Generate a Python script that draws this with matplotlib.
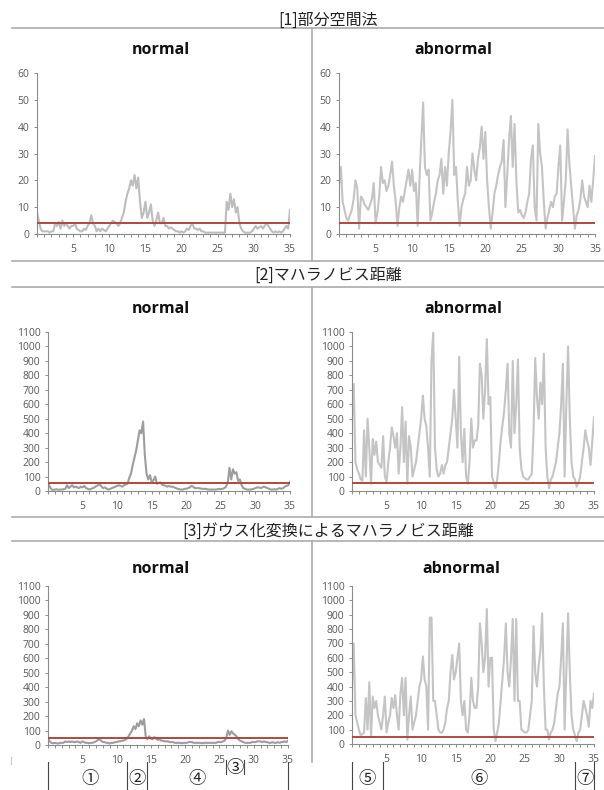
import matplotlib.pyplot as plt
import matplotlib.transforms as mtransforms
from matplotlib.lines import Line2D
import numpy as np

plt.rcParams['font.family'] = ['Noto Sans CJK JP', 'DejaVu Sans']

# sample times (0 .. 35, every 0.25)
t = np.arange(141) * 0.25

# [1] subspace method
sub_normal = [8,
    5, 2, 1, 1,   1, 1, 0.5, 1,   1, 4, 3, 4.5,   2, 5, 3, 4,   3, 2, 3, 3,
    4, 2, 1.5, 1,   1, 2, 1.5, 3,   4, 7, 4, 3,   1, 2, 1, 2,   1.5, 1, 2, 3,
    4, 5, 4.5, 4,   3, 4, 6, 8,   12, 15, 17, 20,   18, 22, 17, 21,   12, 6, 8, 12,
    6, 8, 11, 5,   3, 5, 8, 4,   4, 6, 3, 3,   2, 2.5, 2, 1.5,   1, 1, 0.5, 1,
    0.5, 1, 2, 1.5,   3, 4, 2, 2,   1.5, 2, 1, 1,   0.5, 0.5, 0.5, 0.5,   0.5, 0.5, 0.5, 0.5,
    0.5, 0.5, 0.5, 0.5,   12, 9, 15, 10,   13, 8, 10, 4,   2, 1, 0.5, 0.5,   0.5, 0.5, 1, 2,
    3, 2, 2.5, 3,   2, 3, 4, 3,   2, 1, 0.5, 1,   0.5, 1, 0.5, 1,   2, 3, 2, 9]
sub_abnormal = [18,
    25, 12, 9, 6,   5, 7, 9, 13,   20, 17, 2, 14,   13, 11, 10, 9,   11, 13, 19, 4,
    8, 14, 25, 19,   20, 16, 18, 22,   27, 18, 12, 3,   10, 14, 12, 16,   20, 24, 18, 24,
    16, 19, 3, 20,   35, 49, 25, 22,   24, 5, 8, 12,   15, 20, 22, 28,   15, 25, 18, 30,
    38, 50, 22, 25,   12, 3, 10, 13,   15, 25, 18, 20,   30, 24, 20, 28,   32, 40, 28, 38,
    20, 10, 2, 8,   15, 18, 22, 25,   27, 35, 10, 22,   35, 44, 25, 41,   20, 8, 9, 7,
    6, 8, 12, 15,   28, 33, 10, 5,   41, 30, 25, 12,   2, 6, 9, 12,   10, 14, 15, 25,
    33, 5, 12, 20,   39, 26, 18, 10,   2, 7, 9, 13,   20, 14, 12, 10,   18, 12, 20, 29]

# [2] Mahalanobis distance
mah_normal = [60,
    30, 10, 8, 10,   12, 8, 10, 10,   12, 15, 40, 20,   30, 40, 25, 30,   25, 20, 30, 25,
    35, 20, 15, 10,   15, 20, 25, 35,   40, 45, 30, 20,   25, 15, 10, 15,   20, 25, 30, 35,
    40, 35, 30, 40,   45, 50, 90, 120,   180, 230, 280, 350,   420, 400, 480, 250,   120, 80, 110, 60,
    75, 100, 50, 55,   60, 45, 40, 35,   30, 35, 30, 30,   25, 20, 15, 12,   10, 10, 15, 15,
    20, 25, 35, 30,   20, 20, 20, 18,   15, 15, 15, 12,   10, 10, 10, 10,   10, 12, 15, 12,
    15, 20, 30, 60,   160, 80, 150, 120,   130, 70, 80, 40,   20, 15, 10, 10,   10, 12, 15, 20,
    25, 25, 20, 25,   30, 25, 20, 15,   10, 10, 12, 10,   15, 20, 15, 20,   30, 35, 40, 65]
mah_abnormal = [500,
    740, 200, 150, 120,   80, 70, 420, 100,   500, 300, 50, 360,   250, 340, 200, 180,   160, 380, 100, 60,
    200, 300, 440, 380,   300, 400, 120, 300,   580, 200, 480, 50,   380, 300, 100, 150,   200, 300, 400, 500,
    660, 500, 450, 300,   100, 900, 1100, 300,   150, 100, 120, 180,   120, 180, 200, 300,   400, 500, 700, 500,
    300, 930, 400, 200,   430, 100, 50, 200,   500, 300, 350, 350,   450, 880, 800, 500,   700, 1050, 600, 650,
    100, 60, 20, 80,   200, 350, 450, 550,   700, 880, 400, 300,   900, 400, 600, 910,   300, 150, 100, 90,
    80, 80, 100, 120,   400, 920, 650, 500,   750, 600, 950, 300,   100, 20, 80, 100,   150, 200, 300, 400,
    600, 880, 100, 600,   1000, 500, 200, 100,   80, 30, 60, 100,   200, 300, 420, 350,   300, 180, 350, 510]

# [3] Mahalanobis distance after gaussianisation
gau_normal = [45,
    25, 15, 12, 15,   12, 10, 15, 15,   15, 25, 20, 25,   20, 25, 20, 20,   25, 20, 15, 25,
    20, 15, 15, 12,   15, 15, 20, 25,   35, 40, 30, 20,   20, 15, 15, 10,   15, 15, 20, 20,
    25, 25, 30, 30,   35, 45, 60, 80,   100, 130, 110, 150,   130, 170, 140, 180,   60, 40, 60, 45,
    40, 55, 45, 35,   40, 30, 30, 25,   25, 25, 20, 20,   20, 15, 15, 15,   15, 12, 15, 15,
    15, 20, 20, 20,   15, 15, 15, 15,   15, 12, 15, 15,   15, 15, 15, 15,   15, 15, 20, 20,
    20, 25, 30, 50,   100, 70, 95, 80,   70, 60, 40, 30,   25, 20, 15, 15,   15, 15, 20, 20,
    20, 25, 25, 25,   20, 25, 20, 20,   15, 15, 20, 15,   15, 20, 15, 20,   20, 25, 20, 30]
gau_abnormal = [400,
    700, 200, 150, 100,   60, 70, 80, 320,   100, 430, 50, 330,   250, 300, 200, 150,   100, 200, 330, 80,
    150, 200, 320, 250,   340, 200, 100, 350,   460, 200, 460, 30,   200, 330, 100, 150,   200, 300, 400, 450,
    610, 450, 400, 100,   880, 880, 300, 300,   200, 100, 80, 80,   100, 150, 250, 300,   500, 620, 450, 500,
    600, 700, 300, 200,   300, 100, 80, 200,   460, 300, 250, 250,   400, 840, 700, 500,   600, 940, 400, 600,
    600, 100, 20, 80,   150, 300, 450, 600,   840, 500, 400, 600,   870, 300, 870, 300,   300, 100, 90, 80,
    80, 100, 200, 300,   820, 500, 400, 550,   650, 910, 400, 100,   100, 30, 80, 100,   150, 250, 350, 400,
    600, 840, 100, 500,   910, 500, 200, 100,   60, 20, 80, 100,   200, 300, 250, 200,   120, 300, 250, 350]

thresholds = [4, 55, 50]
section_titles = ['[1]部分空間法', '[2]マハラノビス距離', '[3]ガウス化変換によるマハラノビス距離']
panel_titles = ['normal', 'abnormal']

# segments marked under the last row
normal_bounds = [0, 11.5, 14.4, 35]
normal_bracket = [26.0, 28.6]
normal_labels = ['①', '②', '④', '③']
normal_label_x = [6.1, 13.0, 21.8, 27.3]
abnormal_bounds = [0, 4.5, 32.3, 35]
abnormal_labels = ['⑤', '⑥', '⑦']
abnormal_label_x = [2.2, 18.4, 33.7]

W, H = 604, 790
fig = plt.figure(figsize=(W / 100, H / 100), dpi=100)
red = '#b4463f'
sep = '#ababab'
tick_col = '#595959'


def fx(px):
    return px / W


def fy(py):
    return 1 - py / H


def panel(rect, y, color, ymax, ystep, thr, title, title_pos):
    l, r, top, bot = rect
    ax = fig.add_axes([fx(l), fy(bot), fx(r - l), (bot - top) / H])
    ax.plot(t, y, color=color, lw=1.5, zorder=2)
    ax.axhline(thr, color=red, lw=1.4, zorder=3)
    ax.set_xlim(0, 35)
    ax.set_ylim(0, ymax)
    ax.set_yticks(np.arange(0, ymax + 1, ystep))
    ax.set_xticks([5, 10, 15, 20, 25, 30, 35])
    ax.set_xticks(np.arange(0, 36), minor=True)
    for s in ['top', 'right']:
        ax.spines[s].set_visible(False)
    for s in ['left', 'bottom']:
        ax.spines[s].set_color('#8c8c8c')
        ax.spines[s].set_linewidth(0.8)
    ax.tick_params(axis='both', which='both', color='#8c8c8c', length=2.5, width=0.7,
                   labelcolor=tick_col, labelsize=7.5)
    ax.tick_params(axis='x', pad=5)
    ax.tick_params(axis='y', pad=3)
    for lab in ax.get_xticklabels() + ax.get_yticklabels():
        lab.set_fontfamily('Open Sans')
    fig.text(fx(title_pos[0]), fy(title_pos[1]), title, ha='center', va='center',
             fontsize=11.5, fontweight='bold', fontfamily='Open Sans', color='#111111')
    return ax


series = [(sub_normal, sub_abnormal), (mah_normal, mah_abnormal), (gau_normal, gau_abnormal)]
ymaxs = [60, 1100, 1100]
ysteps = [10, 100, 100]
normal_cols = ['#bdbdbd', '#9d9d9d', '#9d9d9d']
abnormal_col = '#c4c4c4'
# pixel frames: (left, right, top, bottom)
left_rects = [(37, 290, 73, 234), (48, 290, 332, 491), (48, 288, 586, 745)]
right_rects = [(339, 595, 73, 234), (352, 594, 332, 491), (352, 594, 586, 744)]
normal_title_pos = [(161, 50), (161, 309), (161, 569)]
abnormal_title_pos = [(453, 50), (463, 309), (461, 569)]

axes = []
for k in range(3):
    a1 = panel(left_rects[k], series[k][0], normal_cols[k], ymaxs[k], ysteps[k],
               thresholds[k], panel_titles[0], normal_title_pos[k])
    a2 = panel(right_rects[k], series[k][1], abnormal_col, ymaxs[k], ysteps[k],
               thresholds[k], panel_titles[1], abnormal_title_pos[k])
    axes.append((a1, a2))

# section titles and separators
title_py = [20, 275, 531]
for k in range(3):
    fig.text(fx(328), fy(title_py[k]), section_titles[k], ha='center', va='center',
             fontsize=11.5, color='#222222')
for py in [28, 261, 287, 517, 541]:
    fig.add_artist(Line2D([fx(12), 1], [fy(py), fy(py)], color=sep, lw=1.2))
for top, bot in [(28, 261), (287, 517), (541, 762)]:
    fig.add_artist(Line2D([fx(312), fx(312)], [fy(top), fy(bot)], color=sep, lw=1.2))
fig.add_artist(Line2D([fx(11), fx(11)], [fy(757), fy(764)], color='#c8c8c8', lw=0.8))

# segment markers under the bottom row
axn, axa = axes[2]
trn = mtransforms.blended_transform_factory(axn.transData, fig.transFigure)
tra = mtransforms.blended_transform_factory(axa.transData, fig.transFigure)
for xb in normal_bounds:
    axn.plot([xb, xb], [fy(762), fy(790)], color='#444444', lw=0.8, transform=trn, clip_on=False)
for xb in normal_bracket:
    axn.plot([xb, xb], [fy(760), fy(774)], color='#444444', lw=0.8, transform=trn, clip_on=False)
for xb in abnormal_bounds:
    axa.plot([xb, xb], [fy(762), fy(790)], color='#444444', lw=0.8, transform=tra, clip_on=False)
for lab, xl in zip(normal_labels, normal_label_x):
    yy = fy(768) if lab == '③' else fy(779)
    axn.text(xl, yy, lab, transform=trn, ha='center', va='center', fontsize=12.5, color='#222222')
for lab, xl in zip(abnormal_labels, abnormal_label_x):
    axa.text(xl, fy(779), lab, transform=tra, ha='center', va='center', fontsize=12.5, color='#222222')

fig.savefig('out.png', dpi=100)
